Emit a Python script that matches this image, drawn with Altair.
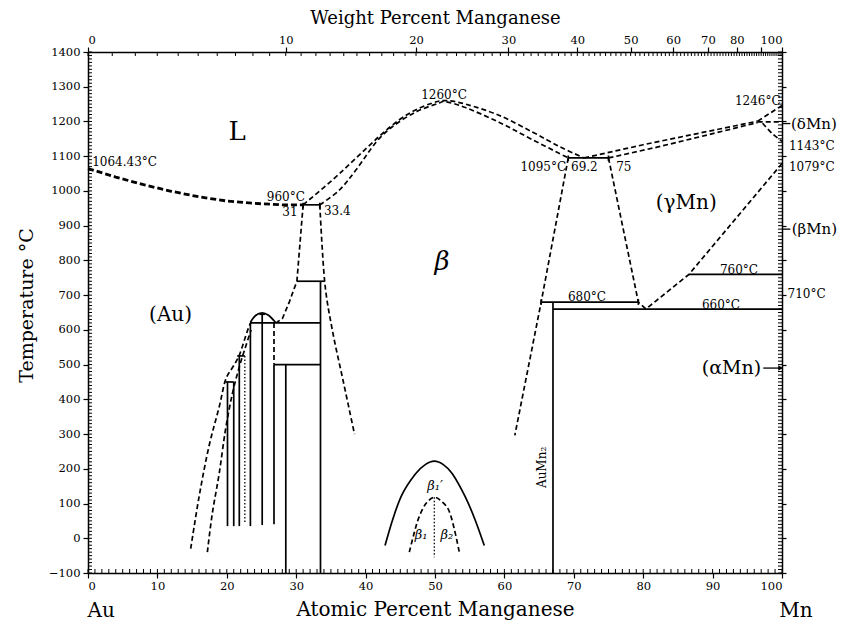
import altair as alt
import pandas as pd

FONT = "DejaVu Serif"

# ---------------- data (atomic % Mn, temperature in °C) ----------------
# liquidus from the Au side
liqAu_x = [0, 4, 8, 12, 16, 20, 24, 28, 31]
liqAu_t = [1064.43, 1040, 1018, 999, 983, 971, 964, 960, 960]
# beta liquidus / solidus (maximum at 1260 °C)
bLiq_x = [31, 35.2, 38.6, 41.9, 44.8, 47.2, 49.6, 51.5, 54.4, 59.2, 64, 68, 71.5]
bLiq_t = [960, 1031, 1094, 1156, 1204, 1233, 1253, 1260, 1250, 1218, 1170, 1127, 1095]
bSol_x = [33.4, 36.2, 38.6, 41.5, 43.8, 47.2, 50.6, 51.5, 54.4, 59.2, 64, 69.2]
bSol_t = [960, 1002, 1060, 1140, 1184, 1227, 1253, 1257, 1240, 1198, 1148, 1095]
# gamma-Mn liquidus / solidus
gLiq_x = [71.5, 80, 88, 96.5]
gLiq_t = [1095, 1133, 1166, 1201]
gSol_x = [75, 82, 89, 96.5]
gSol_t = [1095, 1126, 1160, 1197]
# delta-Mn
dLiq_x = [96.5, 100]
dLiq_t = [1201, 1246]
perit_x = [96.5, 99.7]
perit_t = [1199, 1199]
dg_x = [97.2, 98.6, 100]
dg_t = [1195, 1165, 1143]
# right-hand solid-state boundaries
g79_x = [100, 86.6, 80.4]
g79_t = [1079, 760, 660]
bR_x = [69.2, 65.3, 61.5]
bR_t = [1095, 680, 296]
gL_x = [75, 79.3, 80.4]
gL_t = [1095, 680, 660]
# boundaries below 960 °C
bL1_x = [31, 30.1, 29, 28, 27.2]
bL1_t = [960, 740, 680, 632, 622]
bR1_x = [33.4, 34.1, 35.2, 36.8, 38.4]
bR1_t = [960, 740, 600, 450, 300]
vd_x = [26.8, 26.8]
vd_t = [620, 500]
# Au-side solvus curves
auOut_x = [14.8, 16.0, 17.4, 18.9, 19.8, 20.8, 21.8, 23.0, 23.5]
auOut_t = [-30, 119, 262, 378, 455, 491, 527, 599, 622]
auIn_x = [17.2, 17.9, 18.9, 19.8, 20.8, 21.8, 22.7, 23.5]
auIn_t = [-40, 70, 186, 311, 416, 493, 551, 600]
dome_x = [23.4, 24.2, 25.1, 26.0, 27.0]
dome_t = [622, 642, 649, 642, 622]
# ordering dome around 50 at.%
bd_x = [42.8, 44.0, 45.3, 47.2, 48.6, 49.9, 51.2, 52.5, 54.4, 55.8, 57.1]
bd_t = [-21, 60, 128, 186, 212, 222, 212, 186, 118, 52, -21]
id_x = [46.3, 47.0, 47.7, 48.7, 49.9, 51.0, 52.0, 52.8, 53.5]
id_t = [-40, 15, 61, 100, 118, 105, 80, 25, -40]
dot1_x = [22.6, 22.6]
dot1_t = [525, 45]
dot2_x = [49.9, 49.9]
dot2_t = [118, -55]

# horizontal invariant lines (solid)
h_t = [960, 740, 620, 500, 450, 525, 645, 1095, 680, 660, 760]
h_x1 = [31, 30.1, 23.4, 26.8, 19.8, 21.5, 24.7, 69.2, 65.3, 67, 86.6]
h_x2 = [33.4, 34.1, 33.5, 33.5, 21.0, 22.6, 25.5, 75, 79.3, 100, 100]
# vertical phase lines (solid)
v_x = [33.5, 28.5, 26.8, 25.1, 23.4, 21.8, 21.0, 20.1, 67, 65.3, 79.3, 69.2, 75, 31, 33.4]
v_t1 = [740, 500, 500, 645, 620, 525, 450, 450, 680, 688, 688, 1102, 1102, 966, 966]
v_t2 = [-100, -100, 40, 38, 35, 35, 35, 35, -100, 672, 672, 1086, 1086, 950, 950]

# annotations
lab_text = ["1064.43°C", "960°C", "31", "33.4", "1260°C", "1095°C", "69.2", "75",
            "1246°C", "(δMn)", "1143°C", "1079°C", "(βMn)", "760°C", "710°C",
            "680°C", "660°C"]
lab_x = [0.6, 28.5, 30.2, 34.0, 51.3, 68.9, 69.6, 76.1,
         99.8, 101.3, 101.0, 101.0, 101.4, 93.8, 100.8, 71.9, 91.2]
lab_t = [1083, 982, 940, 942, 1276, 1069, 1069, 1069,
         1258, 1192, 1130, 1068, 890, 772, 703, 694, 671]
lab_size = [12, 12, 12, 12, 12, 12, 12, 12, 12, 15, 12, 12, 15, 12, 12, 12, 12]
lab_align = ["left", "center", "right", "left", "center", "right", "left", "left",
             "right", "left", "left", "left", "left", "center", "left", "center", "center"]

big_text = ["L", "(Au)", "(γMn)", "(αMn)", "Au", "Mn"]
big_x = [21.5, 11.9, 86.2, 97.0, 1.9, 102.0]
big_t = [1169, 642, 965, 489, -209, -209]
big_size = [26, 20, 20, 19, 20, 20]
big_align = ["center", "center", "center", "right", "center", "center"]

beta_text = ["β", "β₁′", "β₁", "β₂"]
beta_x = [51.0, 50.0, 48.0, 51.7]
beta_t = [795, 150, 10, 10]
beta_size = [26, 13, 13, 13]

phase_text = ["AuMn₂"]
phase_x = [65.4]
phase_t = [204]

arr_t = [1194, 890]
arr_x1 = [100, 100]
arr_x2 = [101.2, 101.2]
alpha_arrow_x1 = [97.3]
alpha_arrow_x2 = [99.8]
alpha_arrow_t = [490]

# axis ticks
wt_major = [0, 10, 20, 30, 40, 50, 60, 70, 80, 90, 100]
wt_labels = ["0", "10", "20", "30", "40", "50", "60", "70", "80", "", "100"]
M_AU, M_MN = 196.967, 54.938


def wt_to_at(w):
    return 100 * (w / M_MN) / ((w / M_MN) + ((100 - w) / M_AU))


wt_major_pos = [round(wt_to_at(w), 4) for w in wt_major]
wt_minor_pos = [wt_to_at(w) for w in range(0, 101)]
at_minor = list(range(0, 101))
t_minor = list(range(-100, 1401, 10))

# ---------------- build tables ----------------
curves = [
    ("liqAu", liqAu_x, liqAu_t, "thick", "linear"),
    ("bLiq", bLiq_x, bLiq_t, "dash", "cardinal"),
    ("bSol", bSol_x, bSol_t, "dash", "cardinal"),
    ("gLiq", gLiq_x, gLiq_t, "dash", "linear"),
    ("gSol", gSol_x, gSol_t, "dash", "linear"),
    ("dLiq", dLiq_x, dLiq_t, "dash", "linear"),
    ("perit", perit_x, perit_t, "dash", "linear"),
    ("dg", dg_x, dg_t, "dash", "cardinal"),
    ("g79", g79_x, g79_t, "dash", "linear"),
    ("bR", bR_x, bR_t, "dash", "linear"),
    ("gL", gL_x, gL_t, "dash", "linear"),
    ("bL1", bL1_x, bL1_t, "dash", "linear"),
    ("bR1", bR1_x, bR1_t, "dash", "cardinal"),
    ("vd", vd_x, vd_t, "dash", "linear"),
    ("auOut", auOut_x, auOut_t, "dash", "cardinal"),
    ("auIn", auIn_x, auIn_t, "dash", "cardinal"),
    ("dome", dome_x, dome_t, "solid", "cardinal"),
    ("bd", bd_x, bd_t, "solid", "cardinal"),
    ("id", id_x, id_t, "dash", "cardinal"),
    ("dot1", dot1_x, dot1_t, "dot", "linear"),
    ("dot2", dot2_x, dot2_t, "dot", "linear"),
]
rows = []
for name, xx, tt, st, ip in curves:
    for i, (a, b) in enumerate(zip(xx, tt)):
        rows.append(dict(id=name, o=i, x=a, t=b, st=st, ip=ip))
lines_df = pd.DataFrame(rows)

styles = {
    "thick": dict(strokeWidth=2.8, strokeDash=[6, 3]),
    "dash": dict(strokeWidth=1.7, strokeDash=[5, 3]),
    "dot": dict(strokeWidth=1.3, strokeDash=[1.5, 2]),
    "solid": dict(strokeWidth=1.7),
}

xs = alt.Scale(domain=[0, 100], nice=False, zero=False)
ys = alt.Scale(domain=[-100, 1400], nice=False, zero=False)
XN = alt.X("x:Q", scale=xs, axis=None)
YN = alt.Y("t:Q", scale=ys, axis=None)

layers = []

# axes
ax_common = dict(grid=False, domainColor="black", domainWidth=1.5, tickColor="black",
                 tickWidth=1.2, labelFont=FONT, labelFontSize=11.5, labelColor="black",
                 titleFont=FONT, titleFontWeight="normal", titleColor="black")
dummy = pd.DataFrame({"x": [0], "t": [-100]})
layers.append(
    alt.Chart(dummy).mark_point(opacity=0).encode(
        x=alt.X("x:Q", scale=xs, axis=alt.Axis(
            orient="bottom", values=list(range(0, 101, 10)), format="d", tickSize=5,
            labelPadding=2, title="Atomic Percent Manganese", titleY=42,
            titleFontSize=20, titleBaseline="alphabetic", **ax_common)),
        y=alt.Y("t:Q", scale=ys, axis=alt.Axis(
            orient="left", values=list(range(-100, 1401, 100)), format="d", tickSize=5,
            labelPadding=3, title="Temperature °C", titleX=-56, titleY=253,
            titleAngle=-90, titleAlign="center", titleBaseline="alphabetic",
            titleFontSize=19, **ax_common)),
    )
)
top_expr = " : ".join(f"abs(datum.value - {p}) < 0.01 ? '{l}'"
                      for p, l in zip(wt_major_pos, wt_labels)) + " : ''"
layers.append(
    alt.Chart(dummy).mark_point(opacity=0).encode(
        x=alt.X("x:Q", scale=xs, axis=alt.Axis(
            orient="top", values=wt_major_pos, labelExpr=top_expr, tickSize=5,
            labelPadding=2, title="Weight Percent Manganese", titleY=-29,
            titleFontSize=18, titleBaseline="alphabetic", **ax_common)),
        y=alt.Y("t:Q", scale=ys, axis=alt.Axis(
            orient="right", values=list(range(-100, 1401, 100)), labels=False,
            tickSize=4, title=None, **ax_common)),
    )
)

# minor ticks
layers.append(alt.Chart(pd.DataFrame({"x": at_minor})).mark_rule(color="black", strokeWidth=1)
              .encode(x=XN, y=alt.value(521), y2=alt.value(517)))
layers.append(alt.Chart(pd.DataFrame({"x": wt_minor_pos})).mark_rule(color="black", strokeWidth=1)
              .encode(x=XN, y=alt.value(0), y2=alt.value(4)))
layers.append(alt.Chart(pd.DataFrame({"t": t_minor})).mark_rule(color="black", strokeWidth=1)
              .encode(y=YN, x=alt.value(0), x2=alt.value(4)))
layers.append(alt.Chart(pd.DataFrame({"t": t_minor})).mark_rule(color="black", strokeWidth=1)
              .encode(y=YN, x=alt.value(694), x2=alt.value(690)))

# phase boundary curves
for st, props in styles.items():
    for ip in ["linear", "cardinal"]:
        sub = lines_df[(lines_df.st == st) & (lines_df.ip == ip)]
        if len(sub) == 0:
            continue
        layers.append(
            alt.Chart(sub).mark_line(color="black", interpolate=ip, **props).encode(
                x=XN, y=YN, detail="id:N", order="o:Q")
        )

# solid horizontal and vertical lines
hdf = pd.DataFrame({"t": h_t, "x": h_x1, "x2": h_x2})
layers.append(alt.Chart(hdf).mark_rule(color="black", strokeWidth=1.7).encode(
    x=XN, x2="x2:Q", y=YN))
vdf = pd.DataFrame({"x": v_x, "t": v_t1, "t2": v_t2})
layers.append(alt.Chart(vdf).mark_rule(color="black", strokeWidth=1.7).encode(
    x=XN, y=YN, y2="t2:Q"))

# arrows at the Mn axis
adf = pd.DataFrame({"t": arr_t, "x": arr_x1, "x2": arr_x2})
layers.append(alt.Chart(adf).mark_rule(color="black", strokeWidth=1.3).encode(
    x=XN, x2="x2:Q", y=YN))
aldf = pd.DataFrame({"t": alpha_arrow_t, "x": alpha_arrow_x1, "x2": alpha_arrow_x2})
layers.append(alt.Chart(aldf).mark_rule(color="black", strokeWidth=1.3).encode(
    x=XN, x2="x2:Q", y=YN))
layers.append(alt.Chart(pd.DataFrame({"t": alpha_arrow_t, "x": alpha_arrow_x2}))
              .mark_point(shape="triangle-right", filled=True, color="black", size=30, opacity=1)
              .encode(x=XN, y=YN))

# text
labdf = pd.DataFrame({"txt": lab_text, "x": lab_x, "t": lab_t, "s": lab_size, "a": lab_align})
bigdf = pd.DataFrame({"txt": big_text, "x": big_x, "t": big_t, "s": big_size, "a": big_align})
for df in (labdf, bigdf):
    for al in ["left", "center", "right"]:
        sub = df[df.a == al]
        if len(sub) == 0:
            continue
        layers.append(alt.Chart(sub).mark_text(font=FONT, align=al, baseline="middle",
                                               color="black").encode(
            x=XN, y=YN, text="txt:N", size=alt.Size("s:Q", scale=None, legend=None)))
betadf = pd.DataFrame({"txt": beta_text, "x": beta_x, "t": beta_t, "s": beta_size})
layers.append(alt.Chart(betadf).mark_text(font=FONT, fontStyle="italic", align="center",
                                          baseline="middle", color="black").encode(
    x=XN, y=YN, text="txt:N", size=alt.Size("s:Q", scale=None, legend=None)))
phdf = pd.DataFrame({"txt": phase_text, "x": phase_x, "t": phase_t})
layers.append(alt.Chart(phdf).mark_text(font=FONT, fontSize=12, angle=270, align="center",
                                        baseline="middle", color="black").encode(
    x=XN, y=YN, text="txt:N"))

chart = alt.layer(*layers).resolve_axis(x="independent", y="independent").properties(
    width=694, height=521,
    autosize=alt.AutoSizeParams(type="none"),
    padding={"left": 80, "top": 44, "right": 66, "bottom": 50},
    background="white",
).configure_view(stroke=None)

chart.save("out.html", embed_options={"renderer": "svg", "actions": False})
